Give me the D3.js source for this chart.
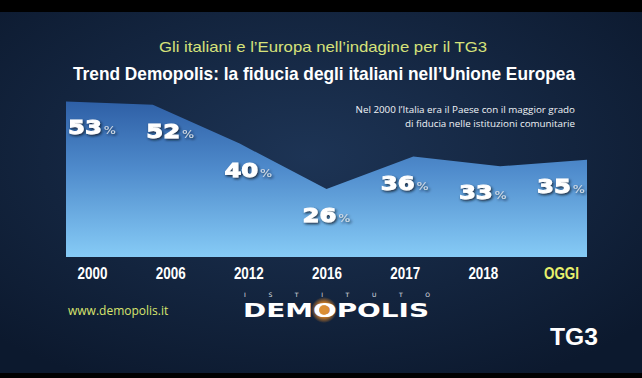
<!DOCTYPE html>
<html>
<head>
<meta charset="utf-8">
<script src="https://cdn.jsdelivr.net/npm/d3@7"></script>
<style>
body { margin: 0; background: #000; }
svg { display: block; }
</style>
</head>
<body>
<div id="chart"></div>
<script>

// data
var years = ["2000", "2006", "2012", "2016", "2017", "2018", "OGGI"];
var trust = [53, 52, 40, 26, 36, 33, 35];

var subtitle = "Gli italiani e l’Europa nell’indagine per il TG3";
var title = "Trend Demopolis: la fiducia degli italiani nell’Unione Europea";
var note_lines = ["Nel 2000 l’Italia era il Paese con il maggior grado", "di fiducia nelle istituzioni comunitarie"];

var width = 642, height = 378;

var data = years.map(function(d, i) { return {year: d, value: trust[i]}; });

var svg = d3.select("#chart").append("svg")
	.attr("width", width)
	.attr("height", height);

var defs = svg.append("defs");

// background glow
var bg = defs.append("radialGradient")
	.attr("id", "bg")
	.attr("cx", "48%").attr("cy", "40%").attr("r", "70%");
bg.append("stop").attr("offset", "0%").attr("stop-color", "#1d3455");
bg.append("stop").attr("offset", "100%").attr("stop-color", "#0c192e");

// area fill, dark blue on top to light blue at the base
var area_grad = defs.append("linearGradient")
	.attr("id", "area-grad")
	.attr("gradientUnits", "userSpaceOnUse")
	.attr("x1", 0).attr("x2", 0)
	.attr("y1", 95).attr("y2", 257);
area_grad.append("stop").attr("offset", "0%").attr("stop-color", "#2b5ba2");
area_grad.append("stop").attr("offset", "45%").attr("stop-color", "#4e8acb");
area_grad.append("stop").attr("offset", "100%").attr("stop-color", "#86cbf6");

var shadow = defs.append("filter")
	.attr("id", "shadow")
	.attr("x", "-20%").attr("y", "-30%")
	.attr("width", "140%").attr("height", "160%");
shadow.append("feDropShadow")
	.attr("dx", 1).attr("dy", 1.5)
	.attr("stdDeviation", 1.2)
	.attr("flood-color", "#0a1428")
	.attr("flood-opacity", 0.85);

var orange = defs.append("radialGradient").attr("id", "orange");
orange.append("stop").attr("offset", "0%").attr("stop-color", "#f4b452");
orange.append("stop").attr("offset", "55%").attr("stop-color", "#c97a26");
orange.append("stop").attr("offset", "100%").attr("stop-color", "#c97a26").attr("stop-opacity", 0);

svg.append("rect")
	.attr("width", width)
	.attr("height", height)
	.attr("fill", "#000");

svg.append("rect")
	.attr("y", 12)
	.attr("width", width)
	.attr("height", 361)
	.attr("fill", "url(#bg)");

// headings
svg.append("text")
	.attr("x", 159).attr("y", 52)
	.attr("textLength", 328)
	.attr("lengthAdjust", "spacingAndGlyphs")
	.style("font-family", "'Liberation Sans', Arial, sans-serif")
	.style("font-size", "14.5px")
	.attr("fill", "#d6e27a")
	.text(subtitle);

svg.append("text")
	.attr("x", 73).attr("y", 80)
	.attr("textLength", 502)
	.attr("lengthAdjust", "spacingAndGlyphs")
	.style("font-family", "'Liberation Sans', sans-serif")
	.style("font-weight", "bold")
	.style("font-size", "18.5px")
	.attr("fill", "#ffffff")
	.text(title);

// scales
var x = d3.scalePoint().domain(years).range([66, 587]);
var x_label = d3.scalePoint().domain(years).range([92, 561]);
var y = d3.scaleLinear().domain([5, 55]).range([257, 95]);

var area = d3.area()
	.x(function(d) { return x(d.year); })
	.y0(y(5))
	.y1(function(d) { return y(d.value); });

svg.append("path")
	.datum(data)
	.attr("d", area)
	.attr("fill", "url(#area-grad)");

// note top right
svg.append("text")
	.attr("text-anchor", "end")
	.style("font-family", "'Open Sans', sans-serif")
	.style("font-size", "9.8px")
	.attr("fill", "#f0f3f7")
	.selectAll("tspan")
	.data(note_lines)
	.enter().append("tspan")
	.attr("x", 575)
	.attr("y", function(d, i) { return 113 + i * 14; })
	.text(function(d) { return d; });

// value labels
var labels = svg.selectAll(".value")
	.data(data)
	.enter().append("g")
	.attr("class", "value")
	.attr("transform", function(d) {
		return "translate(" + x_label(d.year) + "," + (y(d.value) + 33) + ") scale(1.28,1)";
	});

var label_text = labels.append("text")
	.attr("text-anchor", "middle")
	.attr("filter", "url(#shadow)")
	.style("font-family", "'DejaVu Sans', sans-serif");

label_text.append("tspan")
	.style("font-weight", "bold")
	.style("font-size", "19px")
	.attr("fill", "#ffffff")
	.attr("stroke", "#ffffff")
	.attr("stroke-width", 0.9)
	.text(function(d) { return d.value; });

label_text.append("tspan")
	.attr("dx", 1.5)
	.style("font-size", "10px")
	.attr("fill", "#d5dbe4")
	.text("%");

// x axis
var x_axis = svg.append("g")
	.attr("transform", "translate(0," + 257 + ")")
	.call(d3.axisBottom(x_label).tickSize(0).tickPadding(11));

x_axis.select(".domain").remove();

x_axis.selectAll("text")
	.attr("transform", "scale(0.84,1)")
	.style("font-family", "'Liberation Sans', sans-serif")
	.style("font-weight", "bold")
	.style("font-size", "16px")
	.attr("fill", function(d) { return d == "OGGI" ? "#e8f06c" : "#ffffff"; });

// footer
svg.append("text")
	.attr("x", 68).attr("y", 315)
	.style("font-family", "'Open Sans', sans-serif")
	.style("font-size", "12px")
	.attr("fill", "#d9e46e")
	.text("www.demopolis.it");

svg.append("text")
	.attr("x", 244).attr("y", 297)
	.attr("textLength", 186)
	.attr("lengthAdjust", "spacing")
	.style("font-family", "'DejaVu Sans', sans-serif")
	.style("font-size", "6px")
	.attr("fill", "#e0e4ea")
	.text("ISTITUTO");

svg.append("circle")
	.attr("cx", 324).attr("cy", 310)
	.attr("r", 13)
	.attr("fill", "url(#orange)");

svg.append("text")
	.attr("x", 243).attr("y", 317)
	.attr("textLength", 186)
	.attr("lengthAdjust", "spacingAndGlyphs")
	.style("font-family", "'DejaVu Sans', sans-serif")
	.style("font-weight", "bold")
	.style("font-size", "19px")
	.attr("fill", "#ffffff")
	.text("DEMOPOLIS");

svg.append("circle")
	.attr("cx", 324).attr("cy", 310)
	.attr("r", 5)
	.attr("fill", "#d98c33")
	.attr("opacity", 0.9);

svg.append("text")
	.attr("x", 550).attr("y", 345)
	.attr("textLength", 48)
	.attr("lengthAdjust", "spacingAndGlyphs")
	.style("font-family", "'Liberation Sans', sans-serif")
	.style("font-weight", "bold")
	.style("font-size", "23px")
	.attr("fill", "#ffffff")
	.text("TG3");

</script>
</body>
</html>
